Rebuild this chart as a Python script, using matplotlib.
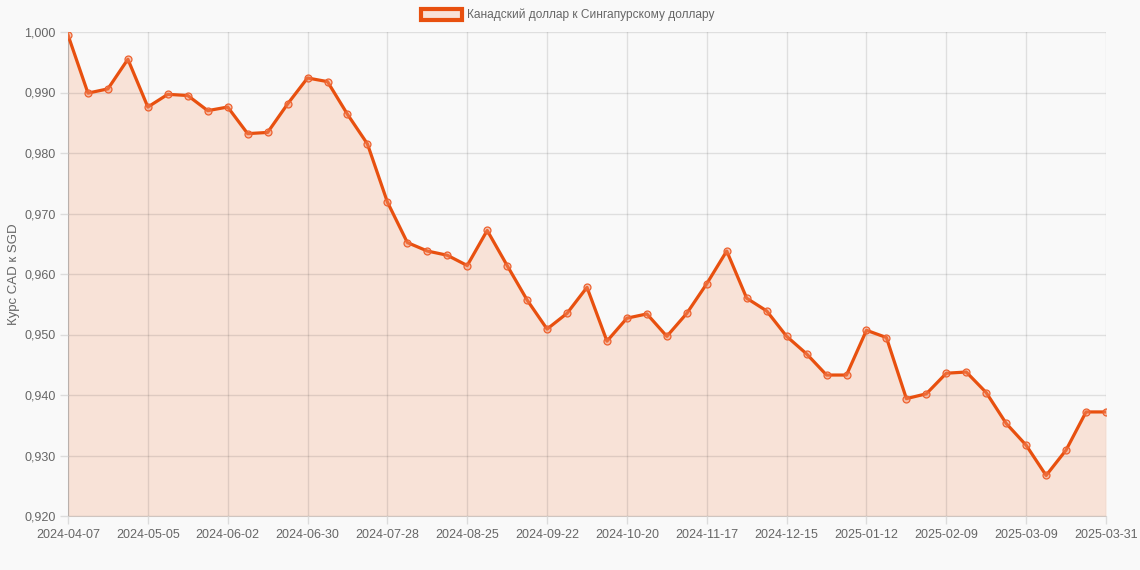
import matplotlib
matplotlib.use("Agg")
import matplotlib.pyplot as plt
from matplotlib.patches import Patch
from matplotlib.ticker import FuncFormatter, MultipleLocator
import datetime as dt

# ---- data ----
start = dt.date(2024, 4, 7)
dates = [(start + dt.timedelta(weeks=i)).isoformat() for i in range(52)] + ["2025-03-31"]
values = [
    0.9995, 0.9899, 0.9906, 0.9955, 0.9876, 0.9897, 0.9895, 0.9870, 0.9876, 0.9832,
    0.9834, 0.9881, 0.9924, 0.9918, 0.9864, 0.9815, 0.9719, 0.9652, 0.9638, 0.9631,
    0.9614, 0.9672, 0.9614, 0.9557, 0.9509, 0.9535, 0.9578, 0.9489, 0.9527, 0.9534,
    0.9497, 0.9535, 0.9584, 0.9638, 0.9560, 0.9539, 0.9497, 0.9468, 0.9433, 0.9433,
    0.9507, 0.9495, 0.9394, 0.9402, 0.9436, 0.9438, 0.9404, 0.9353, 0.9317, 0.9267,
    0.9309, 0.9372, 0.9372,
]
series_label = "Канадский доллар к Сингапурскому доллару"
y_label = "Курс CAD к SGD"
tick_idx = list(range(0, 52, 4)) + [52]

# ---- style ----
plt.rcParams['font.family'] = ['Liberation Sans', 'DejaVu Sans']
line_color = "#e8500f"
fill_color = "#f8e2d7"
bg = "#f9f9f9"
text_color = "#666666"

fig = plt.figure(figsize=(11.4, 5.7), dpi=100, facecolor=bg)
ax = fig.add_axes([68 / 1140, 54 / 570, (1106 - 68) / 1140, (516 - 32) / 570])
ax.set_facecolor(bg)

x = list(range(len(values)))
ax.fill_between(x, values, 0.92, color=fill_color, zorder=1, linewidth=0)
ax.plot(x, values, color=line_color, linewidth=2.3, zorder=3,
        marker='o', markersize=5, markerfacecolor="#f48c6673",
        markeredgecolor="#ed612e", markeredgewidth=0.9)

ax.set_xlim(0, len(values) - 1)
ax.set_ylim(0.92, 1.0)
ax.yaxis.set_major_locator(MultipleLocator(0.01))
ax.yaxis.set_major_formatter(FuncFormatter(lambda v, p: f"{v:.3f}".replace('.', ',')))
ax.set_xticks(tick_idx)
ax.set_xticklabels([dates[i] for i in tick_idx])

for s in ax.spines.values():
    s.set_visible(False)
ax.spines['left'].set_visible(True)
ax.spines['bottom'].set_visible(True)
ax.spines['left'].set_color("#0000002a")
ax.spines['bottom'].set_color("#0000002a")
ax.tick_params(axis='both', color="#dcdcdc", labelcolor=text_color,
               labelsize=9, length=6, width=1)
ax.tick_params(axis='x', pad=3)
ax.tick_params(axis='y', pad=3)
ax.set_axisbelow(False)
ax.grid(True, color="black", alpha=0.1, linewidth=1, zorder=2)

ax.set_ylabel(y_label, color=text_color, fontsize=9.5, labelpad=3)

handle = Patch(facecolor=fill_color, edgecolor=line_color, linewidth=3)
fig.legend([handle], [series_label], loc='center', bbox_to_anchor=(0.5 - 2 / 1140, 1 - 15 / 570),
           frameon=False, fontsize=8.6, handlelength=3.4, handleheight=1.0,
           handletextpad=0.45, labelcolor=text_color)

fig.savefig("out.png", dpi=100, facecolor=bg)
